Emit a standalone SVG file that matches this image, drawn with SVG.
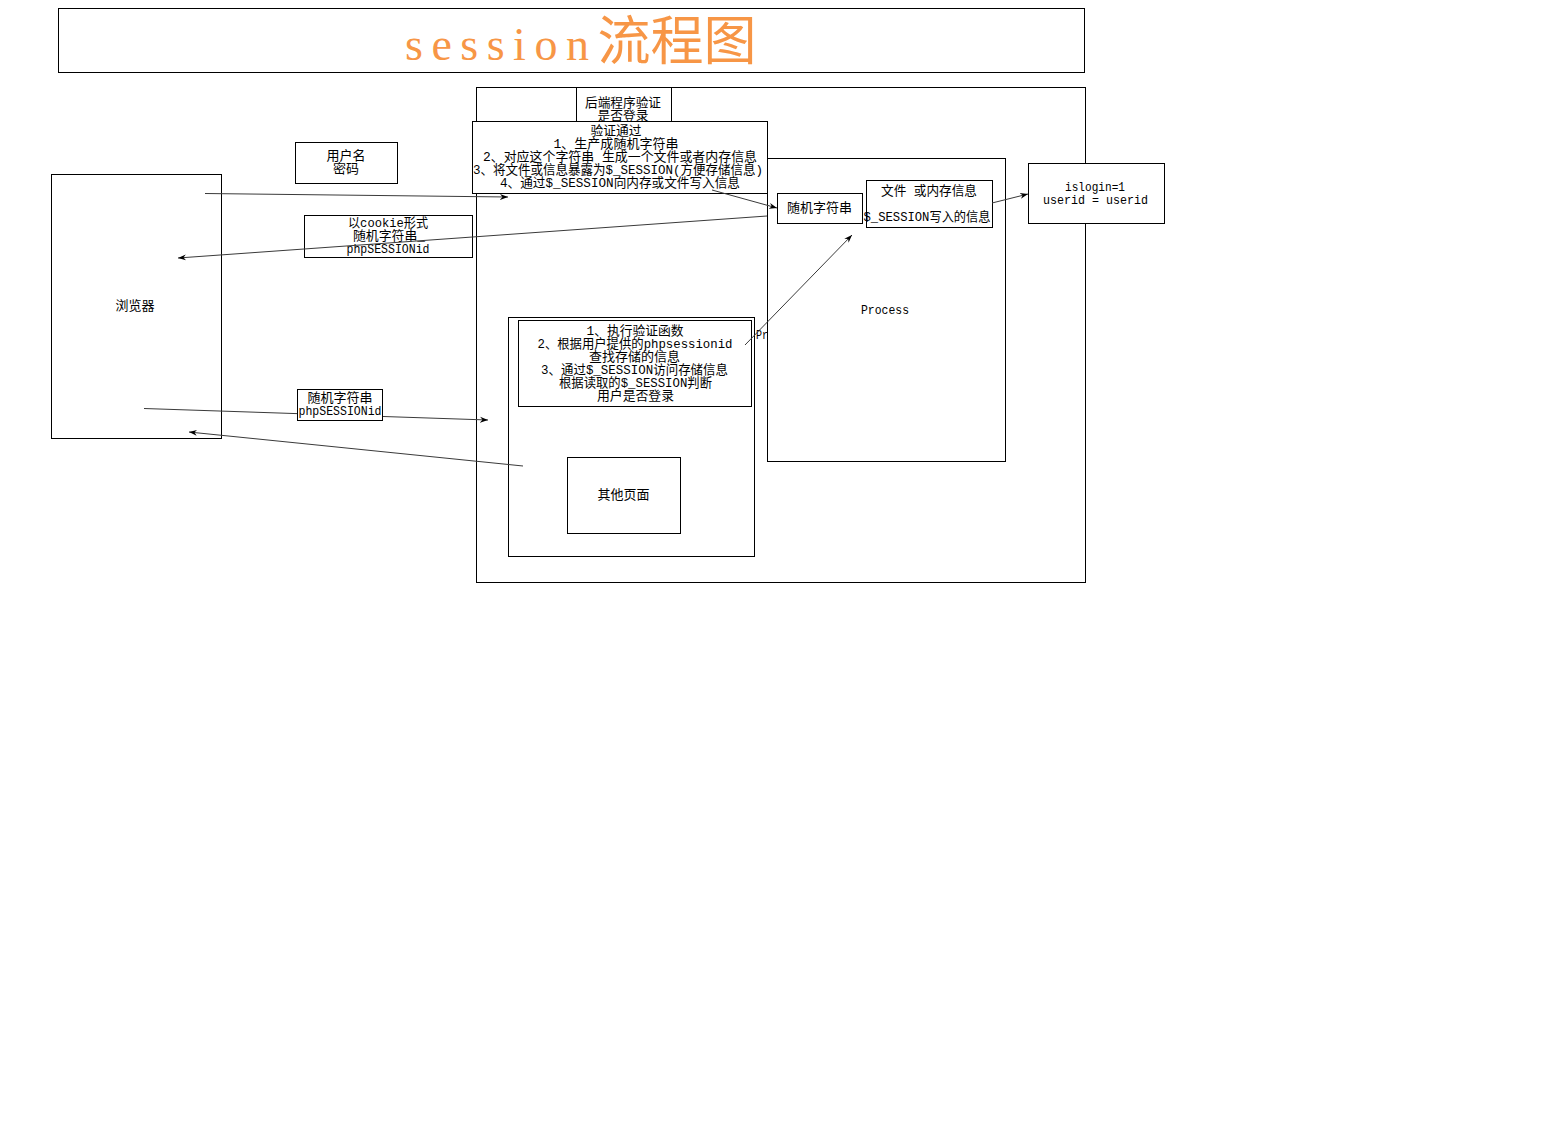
<svg xmlns="http://www.w3.org/2000/svg" width="1550" height="1123" viewBox="0 0 1550 1123">
<style>
.box{fill:#fff;stroke:#000;stroke-width:1}
.t{font-family:"Liberation Mono","Noto Sans CJK SC",monospace;font-size:13px;fill:#000;text-anchor:middle}
.c{fill:none;stroke:#3a3a3a;stroke-width:1}
</style>
<defs>
<marker id="ah" markerUnits="userSpaceOnUse" markerWidth="9" markerHeight="7" refX="8" refY="3.5" orient="auto">
<path d="M0,0.5 L8,3.5 L0,6.5 L2.5,3.5 z" fill="#000"/>
</marker>
</defs>
<rect width="1550" height="1123" fill="#fff"/>
<g id="title">
<rect class="box" x="58.5" y="8.5" width="1026" height="64"/>
<text x="405" y="60" fill="#F79646" font-size="53" font-family="Noto Sans CJK SC, sans-serif"><tspan font-family="Liberation Serif, serif" font-size="46" letter-spacing="8.5">session</tspan><tspan font-family="Noto Sans CJK SC, sans-serif">流程图</tspan></text>
</g>
<g id="server">
<rect class="box" x="476.5" y="87.5" width="609" height="495"/>
</g>
<g id="backend">
<rect class="box" x="576.5" y="87.5" width="95" height="34"/>
<text class="t" x="623" y="107" textLength="76" lengthAdjust="spacingAndGlyphs">后端程序验证</text>
<text class="t" x="623" y="120" textLength="51" lengthAdjust="spacingAndGlyphs">是否登录</text>
</g>
<g id="verify-ok">
<rect class="box" x="472.5" y="121.5" width="295" height="72"/>
<text class="t" x="616" y="135" textLength="51" lengthAdjust="spacingAndGlyphs">验证通过</text>
<text class="t" x="616" y="148" textLength="125" lengthAdjust="spacingAndGlyphs">1、生产成随机字符串</text>
<text class="t" x="620" y="161" textLength="274" lengthAdjust="spacingAndGlyphs">2、对应这个字符串 生成一个文件或者内存信息</text>
<text class="t" x="618" y="174" textLength="290" lengthAdjust="spacingAndGlyphs">3、将文件或信息暴露为$_SESSION(方便存储信息)</text>
<text class="t" x="620" y="187" textLength="240" lengthAdjust="spacingAndGlyphs">4、通过$_SESSION向内存或文件写入信息</text>
</g>
<g id="process">
<rect class="box" x="767.5" y="158.5" width="238" height="303"/>
<text class="t" x="885" y="314" textLength="48" lengthAdjust="spacingAndGlyphs">Process</text>
</g>
<g id="random-str">
<rect class="box" x="777.5" y="193.5" width="85" height="30"/>
<text class="t" x="819.5" y="212" textLength="65" lengthAdjust="spacingAndGlyphs">随机字符串</text>
</g>
<g id="file-mem">
<rect class="box" x="866.5" y="180.5" width="126" height="47"/>
<text class="t" x="929" y="195" textLength="96" lengthAdjust="spacingAndGlyphs">文件 或内存信息</text>
<text class="t" x="927" y="221" textLength="127" lengthAdjust="spacingAndGlyphs">$_SESSION写入的信息</text>
</g>
<g id="islogin">
<rect class="box" x="1028.5" y="163.5" width="136" height="60"/>
<text class="t" x="1095" y="191" textLength="60" lengthAdjust="spacingAndGlyphs">islogin=1</text>
<text class="t" x="1095.5" y="204" textLength="105" lengthAdjust="spacingAndGlyphs">userid = userid</text>
</g>
<g id="user-pass">
<rect class="box" x="295.5" y="142.5" width="102" height="41"/>
<text class="t" x="346" y="160" textLength="39" lengthAdjust="spacingAndGlyphs">用户名</text>
<text class="t" x="346" y="173" textLength="26" lengthAdjust="spacingAndGlyphs">密码</text>
</g>
<g id="cookie">
<rect class="box" x="304.5" y="215.5" width="168" height="42"/>
<text class="t" x="388" y="227" textLength="80" lengthAdjust="spacingAndGlyphs">以cookie形式</text>
<text class="t" x="389" y="240" textLength="72" lengthAdjust="spacingAndGlyphs">随机字符串_</text>
<text class="t" x="388" y="253" textLength="83" lengthAdjust="spacingAndGlyphs">phpSESSIONid</text>
</g>
<g id="browser">
<rect class="box" x="51.5" y="174.5" width="170" height="264"/>
<text class="t" x="135" y="310" textLength="39" lengthAdjust="spacingAndGlyphs">浏览器</text>
</g>
<g id="other-area">
<rect class="box" x="508.5" y="317.5" width="246" height="239"/>
</g>
<g id="check">
<rect class="box" x="518.5" y="320.5" width="233" height="86"/>
<text class="t" x="635" y="335" textLength="97" lengthAdjust="spacingAndGlyphs">1、执行验证函数</text>
<text class="t" x="635" y="348" textLength="195" lengthAdjust="spacingAndGlyphs">2、根据用户提供的phpsessionid</text>
<text class="t" x="634.5" y="361" textLength="91" lengthAdjust="spacingAndGlyphs">查找存储的信息</text>
<text class="t" x="634.5" y="374" textLength="187" lengthAdjust="spacingAndGlyphs">3、通过$_SESSION访问存储信息</text>
<text class="t" x="635.5" y="387" textLength="153" lengthAdjust="spacingAndGlyphs">根据读取的$_SESSION判断</text>
<text class="t" x="635.5" y="400" textLength="77" lengthAdjust="spacingAndGlyphs">用户是否登录</text>
</g>
<g id="pr-label">
<text class="t" x="756" y="339" style="text-anchor:start" textLength="12" lengthAdjust="spacingAndGlyphs">Pr</text>
</g>
<g id="other-page">
<rect class="box" x="567.5" y="457.5" width="113" height="76"/>
<text class="t" x="623.5" y="499" textLength="52" lengthAdjust="spacingAndGlyphs">其他页面</text>
</g>
<g id="connectors">
<line class="c" x1="205" y1="193.5" x2="508" y2="197" marker-end="url(#ah)"/>
<line class="c" x1="767" y1="216" x2="178" y2="258" marker-end="url(#ah)"/>
<line class="c" x1="712" y1="190" x2="777" y2="208" marker-end="url(#ah)"/>
<line class="c" x1="992" y1="203" x2="1028" y2="194" marker-end="url(#ah)"/>
<line class="c" x1="745" y1="345" x2="852" y2="235" marker-end="url(#ah)"/>
<line class="c" x1="144" y1="408.5" x2="488" y2="420" marker-end="url(#ah)"/>
<line class="c" x1="523" y1="466" x2="189" y2="432" marker-end="url(#ah)"/>
</g>
<g id="random-id">
<rect class="box" x="297.5" y="389.5" width="85" height="31"/>
<text class="t" x="340" y="402" textLength="65" lengthAdjust="spacingAndGlyphs">随机字符串</text>
<text class="t" x="340" y="415" textLength="83" lengthAdjust="spacingAndGlyphs">phpSESSIONid</text>
</g>
</svg>
